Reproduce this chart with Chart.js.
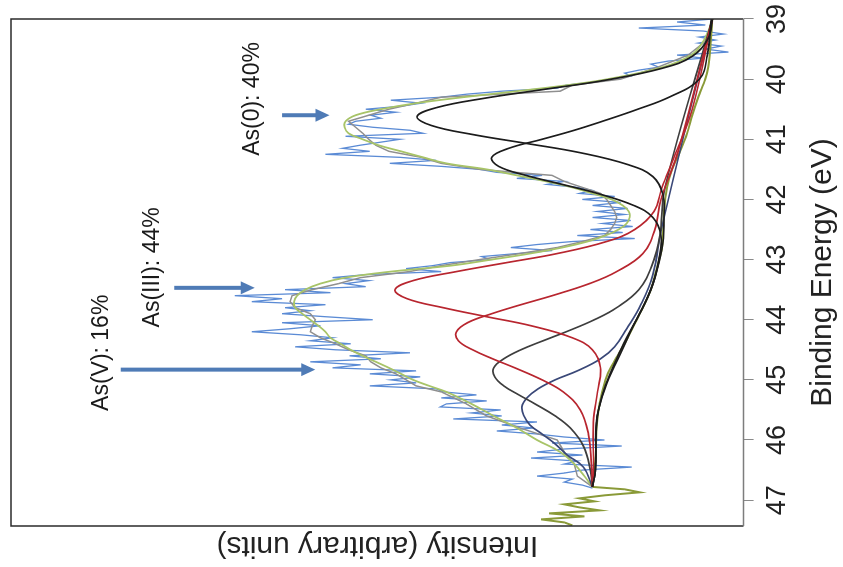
<!DOCTYPE html>
<html>
<head>
<meta charset="utf-8">
<title>As 3d XPS fit</title>
<script src="https://cdn.jsdelivr.net/npm/chart.js@4.4.1/dist/chart.umd.min.js"></script>
<style>
  html, body { margin: 0; padding: 0; background: #fff; }
  body { width: 843px; height: 567px; overflow: hidden; position: relative; }
  /* chart is laid out upright and turned a quarter turn so energy runs up the right edge */
  #wrap {
    position: absolute; left: 0; top: 0;
    width: 567px; height: 843px;
    transform-origin: 0 0;
    transform: translate(0px, 567px) rotate(-90deg);
  }
</style>
</head>
<body>
<div id="wrap"><canvas id="chart"></canvas></div>
<script>
const tickValues = [39, 40, 41, 42, 43, 44, 45, 46, 47];

// raw spectrum, 0.05 eV steps from 39.00 eV
const rawStart = 39.0;
const rawStep = 0.05;
const rawCounts = [
  31, 66, 38, 104, 40, 20, 44, 28, 45, 22, 38, 15, 66, 40, 75, 92, 84, 104, 118, 112,
  132, 150, 176, 185, 240, 275, 300, 350, 320, 340, 375, 345, 370, 360, 385, 392, 368, 331, 318, 395,
  341, 361, 381, 398, 371, 415, 341, 305, 351, 300, 262, 245, 200, 225, 178, 195, 165, 150, 163, 128,
  160, 122, 150, 115, 145, 118, 150, 112, 140, 110, 152, 120, 165, 108, 170, 205, 231, 190, 225, 260,
  251, 291, 308, 335, 300, 375, 408, 372, 395, 375, 455, 410, 505, 458, 488, 415, 455, 430, 458, 415,
  368, 458, 420, 450, 488, 440, 408, 430, 390, 445, 405, 331, 391, 360, 430, 380, 408, 325, 371, 321,
  350, 325, 371, 305, 298, 265, 300, 255, 295, 301, 241, 270, 240, 288, 205, 240, 208, 245, 205, 178,
  138, 190, 121, 178, 205, 160, 211, 165, 178, 111, 160, 178, 205, 170, 178, 160, 150
];

// raw points past the fitted window
const tailEnergy = [46.78, 46.82, 46.87, 46.92, 46.97, 47.02, 47.07, 47.12, 47.17, 47.22, 47.27, 47.32, 47.37, 47.42];
const tailCounts = [150, 118, 103, 138, 163, 148, 178, 163, 143, 193, 158, 201, 178, 170];

// fitted envelope and smoothed data share one grid
const fitEnergy = [
  39.0, 39.2, 39.4, 39.6, 39.8,
  40.0, 40.1, 40.2, 40.3, 40.4, 40.5, 40.6, 40.7, 40.8, 40.9,
  41.0, 41.1, 41.2, 41.3, 41.4, 41.5, 41.6, 41.7, 41.8, 41.9,
  42.0, 42.1, 42.2, 42.3, 42.4, 42.5, 42.6, 42.7, 42.8, 42.9,
  43.0, 43.1, 43.2, 43.3, 43.4, 43.5, 43.6, 43.7, 43.8, 43.9,
  44.0, 44.1, 44.2, 44.3, 44.4, 44.5, 44.6, 44.7, 44.8, 44.9,
  45.0, 45.1, 45.2, 45.4, 45.6, 45.8, 46.0, 46.2, 46.4, 46.6, 46.78
];
const envelopeCounts = [
  31, 35, 41, 52, 80,
  135, 175, 225, 278, 325, 360, 385, 395, 396, 392,
  378, 362, 340, 318, 295, 255, 225, 196, 170, 150,
  131, 120, 114, 113, 116, 124, 137, 155, 180, 212,
  250, 290, 350, 395, 420, 435, 443, 446, 445, 438,
  430, 422, 415, 410, 400, 390, 378, 365, 352, 340,
  328, 312, 295, 270, 248, 225, 205, 182, 168, 158, 150
];
const smoothCounts = [
  31, 33, 40, 55, 85,
  122, 170, 182, 300, 325, 352, 372, 392, 385, 378,
  372, 365, 352, 320, 300, 262, 190, 178, 160, 142,
  136, 132, 128, 126, 128, 132, 138, 160, 185, 222,
  262, 300, 332, 380, 402, 428, 448, 450, 445, 430,
  425, 428, 430, 420, 405, 392, 375, 370, 360, 345,
  335, 325, 300, 275, 255, 222, 185, 178, 168, 165, 150
];

const bgEnergy = [39.0, 39.5, 39.8, 40.0, 40.3, 40.6, 40.9, 41.2, 41.5, 41.8, 42.2, 42.8, 43.2, 43.5, 43.8, 44.0, 44.3, 44.6, 44.8, 45.0, 45.4, 45.8, 46.3, 46.78];
const bgCounts = [31, 33, 35, 38, 45, 51, 56, 63, 71, 76, 79, 81, 87, 92, 100, 106, 115, 125, 132, 137, 143, 146, 147, 150];

// As(0) doublet
const as0aEnergy = [39.0, 39.32, 39.62, 39.82, 40.02, 40.17, 40.32, 40.47, 40.62, 40.77, 40.92, 41.07, 41.22, 41.42, 41.62, 41.92, 42.32, 42.82, 43.62, 44.5, 45.5, 46.5, 46.78];
const as0aCounts = [31, 35, 51, 81, 138, 198, 258, 304, 324, 310, 269, 215, 163, 115, 90, 80, 79, 81, 95, 122, 144, 147, 150];
const as0bEnergy = [39.0, 39.6, 40.0, 40.3, 40.5, 40.7, 40.85, 41.0, 41.15, 41.3, 41.45, 41.6, 41.75, 41.9, 42.1, 42.3, 42.6, 43.0, 43.5, 44.3, 45.5, 46.5, 46.78];
const as0bCounts = [32, 36, 44, 74, 105, 140, 168, 200, 233, 250, 243, 216, 180, 145, 109, 90, 82, 84, 92, 115, 144, 147, 150];

// As(III) doublet
const as3aEnergy = [39.0, 40.5, 41.3, 41.8, 42.2, 42.5, 42.7, 42.9, 43.05, 43.2, 43.35, 43.5, 43.65, 43.8, 43.95, 44.1, 44.3, 44.5, 44.8, 45.2, 45.7, 46.5, 46.78];
const as3aCounts = [31, 51, 69, 81, 89, 108, 136, 185, 235, 285, 328, 346, 334, 298, 255, 211, 170, 150, 142, 145, 149, 149, 150];
const as3bEnergy = [39.0, 41.2, 42.0, 42.5, 42.9, 43.2, 43.4, 43.6, 43.75, 43.9, 44.05, 44.2, 44.35, 44.5, 44.65, 44.8, 45.0, 45.2, 45.5, 45.9, 46.4, 46.78];
const as3bCounts = [31, 65, 82, 88, 100, 126, 153, 190, 221, 250, 274, 285, 283, 269, 249, 227, 200, 179, 162, 154, 151, 150];

// As(V) doublet
const as5aEnergy = [39.0, 41.8, 42.6, 43.1, 43.5, 43.8, 44.0, 44.2, 44.35, 44.5, 44.65, 44.8, 44.95, 45.1, 45.25, 45.4, 45.6, 45.8, 46.1, 46.5, 46.78];
const as5aCounts = [31, 78, 83, 91, 104, 126, 148, 176, 199, 221, 238, 248, 247, 238, 223, 207, 187, 172, 159, 152, 150];
const as5bEnergy = [39.0, 42.45, 43.25, 43.75, 44.15, 44.45, 44.65, 44.85, 45.0, 45.15, 45.3, 45.45, 45.6, 45.75, 45.9, 46.05, 46.25, 46.45, 46.78];
const as5bCounts = [31, 81, 90, 102, 116, 128, 142, 165, 187, 204, 215, 220, 218, 212, 200, 188, 175, 159, 150];

// species shares written above the peaks, with arrows pointing down at them
const shareText = ['As(0): 40%', 'As(III): 44%', 'As(V): 16%'];
const shareTextEnergy = [40.33, 43.13, 44.55];
const shareTextLevel = [487, 586, 637];
const arrowEnergy = [40.6, 43.47, 44.83];
const arrowFrom = [458, 565, 618];
const arrowTo = [411, 485, 425];

const pts = (xs, ys) => xs.map((x, i) => ({ x: x, y: ys[i] }));
const rawPoints = rawCounts.map((y, i) => ({ x: +(rawStart + i * rawStep).toFixed(2), y: y }));

const FONT = '"Liberation Sans", Arial, sans-serif';

function line(label, data, color, width, order, tension) {
  return {
    label: label,
    data: data,
    borderColor: color,
    borderWidth: width,
    pointRadius: 0,
    tension: tension,
    fill: false,
    order: order
  };
}

const frame = {
  id: 'frame',
  afterDatasetsDraw(chart) {
    const { ctx, chartArea: a } = chart;
    ctx.save();
    ctx.lineWidth = 1.5;
    ctx.strokeStyle = '#2b2b2b';
    ctx.beginPath();
    ctx.moveTo(a.left, a.bottom);
    ctx.lineTo(a.left, a.top);
    ctx.lineTo(a.right, a.top);
    ctx.lineTo(a.right, a.bottom);
    ctx.stroke();
    ctx.strokeStyle = '#7d7d7d';
    ctx.beginPath();
    ctx.moveTo(a.left, a.bottom);
    ctx.lineTo(a.right, a.bottom);
    ctx.stroke();
    ctx.restore();
  }
};

const shares = {
  id: 'shares',
  afterDraw(chart) {
    const { ctx } = chart;
    const xs = chart.scales.x;
    const ys = chart.scales.y;
    ctx.save();
    ctx.strokeStyle = '#4f7bb6';
    ctx.fillStyle = '#4f7bb6';
    ctx.lineWidth = 4;
    arrowEnergy.forEach((e, i) => {
      const px = xs.getPixelForValue(e);
      const y1 = ys.getPixelForValue(arrowFrom[i]);
      const y2 = ys.getPixelForValue(arrowTo[i]);
      ctx.beginPath();
      ctx.moveTo(px, y1);
      ctx.lineTo(px, y2 - 12);
      ctx.stroke();
      ctx.beginPath();
      ctx.moveTo(px, y2);
      ctx.lineTo(px - 6.5, y2 - 14);
      ctx.lineTo(px + 6.5, y2 - 14);
      ctx.closePath();
      ctx.fill();
    });
    ctx.fillStyle = '#1a1a1a';
    ctx.font = '23px ' + FONT;
    ctx.textAlign = 'center';
    ctx.textBaseline = 'middle';
    shareText.forEach((t, i) => {
      ctx.fillText(t, xs.getPixelForValue(shareTextEnergy[i]), ys.getPixelForValue(shareTextLevel[i]));
    });
    ctx.restore();
  }
};

new Chart(document.getElementById('chart'), {
  type: 'line',
  data: {
    datasets: [
      line('As(0) 3d5/2', pts(as0aEnergy, as0aCounts), '#1c1c1c', 1.7, 1, 0.4),
      line('As(0) 3d3/2', pts(as0bEnergy, as0bCounts), '#1c1c1c', 1.7, 1, 0.4),
      line('As(III) 3d5/2', pts(as3aEnergy, as3aCounts), '#b8262f', 1.7, 2, 0.4),
      line('As(III) 3d3/2', pts(as3bEnergy, as3bCounts), '#b8262f', 1.7, 2, 0.4),
      line('As(V) 3d5/2', pts(as5aEnergy, as5aCounts), '#3e3e3e', 1.7, 3, 0.4),
      line('As(V) 3d3/2', pts(as5bEnergy, as5bCounts), '#3a4878', 1.7, 3, 0.4),
      line('Background', pts(bgEnergy, bgCounts), '#8a9a38', 2, 5, 0.3),
      line('Outside fit', pts(tailEnergy, tailCounts), '#8a9a38', 2, 5, 0),
      line('Envelope', pts(fitEnergy, envelopeCounts), '#a8c468', 1.8, 6, 0.4),
      line('Smoothed', pts(fitEnergy, smoothCounts), '#8f8f8f', 1.5, 7, 0),
      line('Data', rawPoints, '#5b8bd5', 1.3, 8, 0)
    ]
  },
  options: {
    responsive: true,
    maintainAspectRatio: false,
    animation: false,
    layout: { padding: { top: 11, right: 19, bottom: 0, left: 0 } },
    plugins: {
      legend: { display: false },
      tooltip: { enabled: false }
    },
    scales: {
      x: {
        type: 'linear',
        reverse: true,
        min: 39,
        max: 47.43,
        afterBuildTicks: (scale) => {
          scale.ticks = tickValues.map((v) => ({ value: v }));
        },
        border: { display: false },
        grid: {
          drawOnChartArea: false,
          drawTicks: true,
          tickLength: 10,
          color: '#8a8a8a'
        },
        ticks: {
          padding: 8,
          maxRotation: 0,
          color: '#222',
          font: { family: FONT, size: 27 },
          callback: (v) => String(v)
        },
        title: {
          display: true,
          text: 'Binding Energy (eV)',
          color: '#222',
          font: { family: FONT, size: 30 },
          padding: { top: 3, bottom: 2 }
        }
      },
      y: {
        min: 0,
        max: 727,
        border: { display: false },
        grid: { display: false, drawTicks: false },
        ticks: { display: false },
        title: {
          display: true,
          text: 'Intensity (arbitrary units)',
          color: '#222',
          font: { family: FONT, size: 30 },
          padding: { top: 4, bottom: 1 }
        }
      }
    }
  },
  plugins: [frame, shares]
});
</script>
</body>
</html>
